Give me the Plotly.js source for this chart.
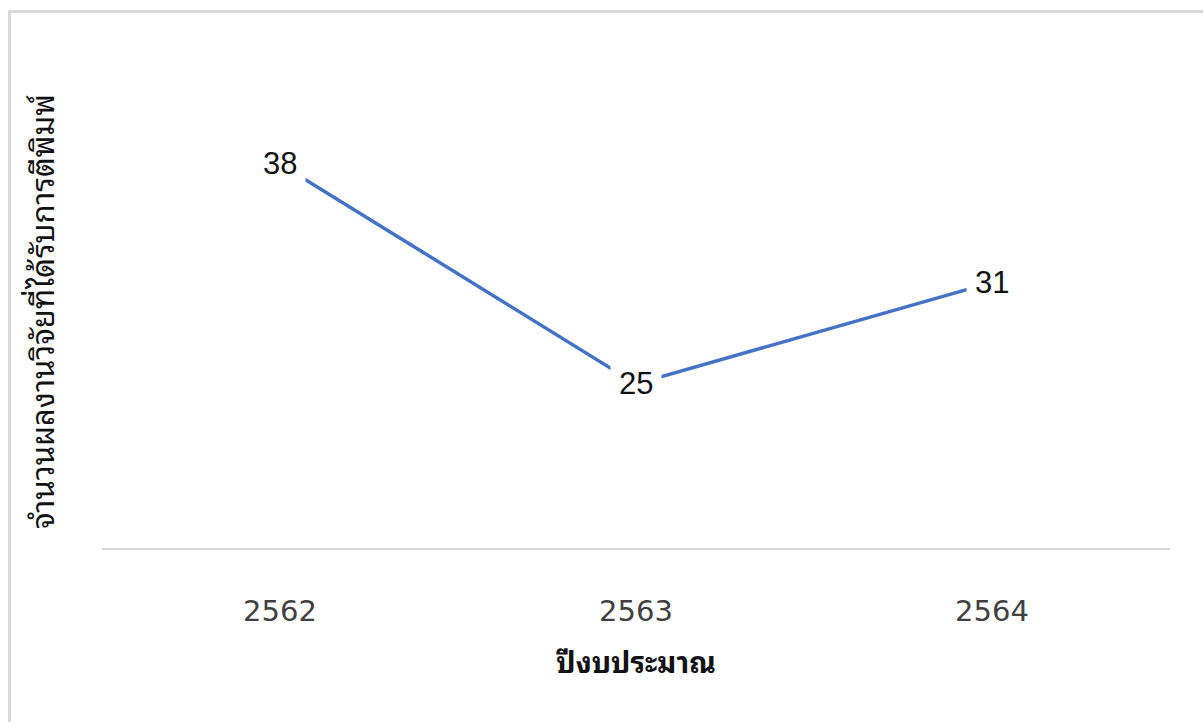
<!DOCTYPE html>
<html>
<head>
<meta charset="utf-8">
<script src="https://cdn.plot.ly/plotly-3.0.1.min.js"></script>
<style>
  html, body { margin: 0; padding: 0; background: #ffffff; overflow: hidden; }
  #chart { width: 1203px; height: 722px; position: absolute; left: 0; top: 0; }
  #frame { position: absolute; left: 8px; top: 10px; width: 1300px; height: 800px;
           border-left: 3px solid #d9d9d9; border-top: 3px solid #d9d9d9; pointer-events: none; }
</style>
</head>
<body>
<div id="chart"></div>
<div id="frame"></div>
<script>
const years = ["2562", "2563", "2564"];
const publications = [38, 25, 31];
const xTitle = "ปีงบประมาณ";
const yTitle = "จำนวนผลงานวิจัยที่ได้รับการตีพิมพ์";

const thaiFont = "'Noto Sans Thai Looped', 'Noto Serif Thai', Loma, Garuda, Kinnari, Norasi, 'Leelawadee UI', Tahoma, 'Noto Sans Thai', 'DejaVu Sans', sans-serif";

const trace = {
  x: years,
  y: publications,
  type: "scatter",
  mode: "lines",
  line: { color: "#4472C4", width: 3.5 },
  hoverinfo: "x+y",
  showlegend: false
};

// category axis: annotation x uses the category index
const annotations = years.map((yr, i) => ({
  x: i,
  y: publications[i],
  xref: "x",
  yref: "y",
  text: String(publications[i]),
  showarrow: false,
  bgcolor: "#ffffff",
  borderpad: 8,
  font: { family: "'Liberation Sans', Arial, sans-serif", size: 31, color: "#111111" }
}));

annotations.push({
  xref: "paper",
  yref: "paper",
  x: -0.058,
  y: 0.558,
  xanchor: "center",
  yanchor: "middle",
  textangle: -90,
  showarrow: false,
  text: yTitle,
  font: { family: thaiFont, size: 31, color: "#111111" }
});

const layout = {
  width: 1203,
  height: 722,
  margin: { l: 102, r: 33, t: 125, b: 174 },
  paper_bgcolor: "#ffffff",
  plot_bgcolor: "#ffffff",
  showlegend: false,
  xaxis: {
    type: "category",
    range: [-0.5, 2.5],
    showline: true,
    linecolor: "#d9d9d9",
    linewidth: 2,
    showgrid: false,
    zeroline: false,
    ticks: "",
    ticklabelstandoff: 36,
    tickfont: { family: "'DejaVu Sans', 'Noto Sans', sans-serif", size: 29, color: "#404040" },
    title: {
      text: "<b>" + xTitle + "</b>",
      standoff: 26,
      font: { family: thaiFont, size: 29, color: "#111111" }
    }
  },
  yaxis: {
    range: [15.3, 40.3],
    showline: false,
    showgrid: false,
    zeroline: false,
    showticklabels: false,
    ticks: ""
  },
  annotations: annotations
};

Plotly.newPlot("chart", [trace], layout, { displayModeBar: false, staticPlot: true });
</script>
</body>
</html>
